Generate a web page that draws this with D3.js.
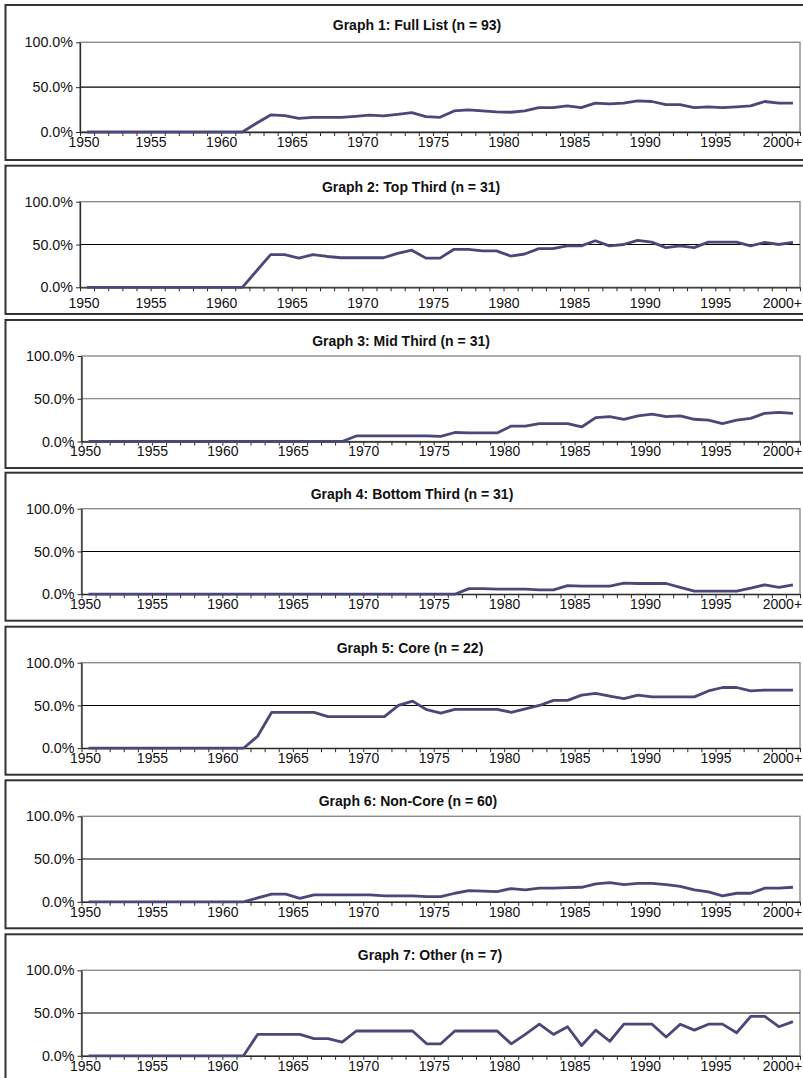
<!DOCTYPE html>
<html>
<head>
<meta charset="utf-8">
<script src="https://cdn.jsdelivr.net/npm/d3@7"></script>
<style>
  html, body { margin: 0; padding: 0; background: #fff; }
  svg { display: block; }
  text { font-family: "Liberation Sans", Arial, Helvetica, sans-serif; }
</style>
</head>
<body>
<svg id="chart" width="803" height="1078"></svg>
<script>
// ---------- data ----------
const years = [1950,1951,1952,1953,1954,1955,1956,1957,1958,1959,
  1960,1961,1962,1963,1964,1965,1966,1967,1968,1969,
  1970,1971,1972,1973,1974,1975,1976,1977,1978,1979,
  1980,1981,1982,1983,1984,1985,1986,1987,1988,1989,
  1990,1991,1992,1993,1994,1995,1996,1997,1998,1999,2000];

const labelYears = [1950, 1955, 1960, 1965, 1970, 1975, 1980, 1985, 1990, 1995, 2000];
const labelTexts = ["1950", "1955", "1960", "1965", "1970", "1975", "1980", "1985", "1990", "1995", "2000+"];
const yTicks = [0, 0.5, 1];

const titles = [
  "Graph 1: Full List (n = 93)",
  "Graph 2: Top Third (n = 31)",
  "Graph 3: Mid Third (n = 31)",
  "Graph 4: Bottom Third (n = 31)",
  "Graph 5: Core (n = 22)",
  "Graph 6: Non-Core (n = 60)",
  "Graph 7: Other (n = 7)"
];

// values in percent, one per year 1950..2000(+)
const fullList = [0,0,0,0,0,0,0,0,0,0,0,0,
  9.7,19.0,18.3,15.3,16.4,16.4,16.4,17.5,18.7,17.9,19.6,21.6,17.2,16.4,23.5,24.6,23.5,22.4,
  22.0,23.5,27.2,27.2,29.1,27.2,32.1,31.3,32.1,34.7,34.0,30.6,30.6,27.2,28.0,27.2,28.0,29.1,34.0,32.1,32.1];

const topThird = [0,0,0,0,0,0,0,0,0,0,0,0,
  19.0,38.1,38.1,34.1,38.1,36.0,34.5,34.5,34.5,34.5,39.7,43.3,34.1,34.1,44.4,44.4,42.5,42.5,
  36.5,38.9,45.2,45.2,48.4,48.4,54.4,48.4,50.0,54.8,52.8,46.4,48.4,46.4,52.8,52.8,52.8,48.4,52.4,50.0,52.4];

const midThird = [0,0,0,0,0,0,0,0,0,0,0,0,0,0,0,0,0,0,0,
  6.5,6.5,6.5,6.5,6.5,6.5,6.0,10.5,10,10,10,
  18,18,21,21,21,17,28,29,26,30,32,29,30,26,25,21,25,27,33,34,33];

const bottomThird = [0,0,0,0,0,0,0,0,0,0,0,0,0,0,0,0,0,0,0,0,0,0,0,0,0,0,0,
  6.5,6.5,6,6,6,5,5,10,9.5,9.5,9.5,13,12.5,12.5,12.5,8,3.5,3.5,3.5,3.5,7,11,8,11];

const core = [0,0,0,0,0,0,0,0,0,0,0,0,
  14,42,42,42,42,37,37,37,37,37,50,55,45,41,45.5,45.5,45.5,45.5,
  42,46,50,56,56,62,64,61,58,62,60,60,60,60,67,71,71,67,68,68,68];

const nonCore = [0,0,0,0,0,0,0,0,0,0,0,0,
  4.5,9,9,4,8,8,8,8,8,7,7,7,6,6,10,13,12.5,12,
  15.5,14,16,16,16.5,17,21,22.5,20,21.5,21.5,20,18,14,11.5,7,10,10,16,16,17];

const other = [0,0,0,0,0,0,0,0,0,0,0,0,
  25,25,25,25,20,20,16,29,29,29,29,29,14,14,29,29,29,29,
  14,25,37,25,34,12,30,17,37,37,37,22,37,30,37,37,27,46,46,34,40];

const seriesList = [fullList, topThird, midThird, bottomThird, core, nonCore, other];

// ---------- layout ----------
const panels = [
  { top: 5,     boxH: 155,   plotTop: 42.3,  plotBottom: 132,    left: 80,   titleX: 417, titleY: 25,    pad: 1,   grid: "#000" },
  { top: 165.7, boxH: 148.3, plotTop: 201.7, plotBottom: 287.3,  left: 80,   titleX: 411, titleY: 186.7, pad: 6.5, grid: "#000" },
  { top: 320,   boxH: 148,   plotTop: 356,   plotBottom: 441.5,  left: 81.5, titleX: 401, titleY: 341,   pad: 1,   grid: "#6e6e6e" },
  { top: 472.7, boxH: 148,   plotTop: 508.7, plotBottom: 594.2,  left: 81.5, titleX: 412, titleY: 493.7, pad: 1,   grid: "#000" },
  { top: 626.7, boxH: 148,   plotTop: 662.7, plotBottom: 748.2,  left: 81.5, titleX: 410, titleY: 647.7, pad: 1,   grid: "#000" },
  { top: 780.3, boxH: 148,   plotTop: 816.3, plotBottom: 901.8,  left: 81.5, titleX: 408, titleY: 801.3, pad: 1,   grid: "#000" },
  { top: 934.3, boxH: 148,   plotTop: 970.3, plotBottom: 1055.8, left: 81.5, titleX: 430, titleY: 955.3, pad: 1,   grid: "#000" }
];
const plotRight = 800;
const lineColor = "#4a4879";

const svg = d3.select("#chart");
svg.append("rect").attr("width", 803).attr("height", 1078).attr("fill", "#fff");

panels.forEach((p, k) => {
  const g = svg.append("g");
  const data = seriesList[k];

  // outer frame
  g.append("rect")
    .attr("x", 5.5).attr("y", p.top)
    .attr("width", 840).attr("height", p.boxH)
    .attr("fill", "none").attr("stroke", "#333").attr("stroke-width", 2);

  // title
  g.append("text")
    .attr("x", p.titleX).attr("y", p.titleY + 5)
    .attr("text-anchor", "middle")
    .attr("font-size", 14).attr("font-weight", "bold").attr("fill", "#111")
    .text(titles[k]);

  const x = d3.scaleLinear().domain([years[0], years[years.length - 1] + 1]).range([p.left, plotRight]);
  const y = d3.scaleLinear().domain([0, 1]).range([p.plotBottom, p.plotTop]);

  // plot area border (gray)
  g.append("rect")
    .attr("x", p.left).attr("y", p.plotTop)
    .attr("width", plotRight - p.left).attr("height", p.plotBottom - p.plotTop)
    .attr("fill", "none").attr("stroke", "#8c8c8c").attr("stroke-width", 1.4);

  // 50% gridline
  g.append("line")
    .attr("x1", p.left).attr("x2", plotRight)
    .attr("y1", y(0.5)).attr("y2", y(0.5))
    .attr("stroke", p.grid).attr("stroke-width", 1.1);

  // y axis
  const yAxis = d3.axisLeft(y).tickValues(yTicks).tickFormat(d3.format(".1%"))
    .tickSize(4).tickSizeOuter(0).tickPadding(3);
  const ya = g.append("g").attr("transform", `translate(${p.left},0)`).call(yAxis);
  ya.select(".domain").attr("stroke", "#2a2a2a").attr("stroke-width", 1.3);
  ya.selectAll(".tick line").attr("stroke", "#2a2a2a");
  ya.selectAll("text").attr("font-size", 14.3).attr("fill", "#111")
    .attr("font-family", "'Liberation Sans', Arial, sans-serif");

  // x axis: ticks at every category boundary, labels every 5 years
  const tickVals = years.concat([years[years.length - 1] + 1]);
  const xAxis = d3.axisBottom(x).tickValues(tickVals)
    .tickFormat(d => { const i = labelYears.indexOf(d); return i >= 0 ? labelTexts[i] : ""; })
    .tickSize(4).tickSizeOuter(0).tickPadding(p.pad);
  const xa = g.append("g").attr("transform", `translate(0,${p.plotBottom})`).call(xAxis);
  xa.select(".domain").attr("stroke", "#2a2a2a").attr("stroke-width", 1.3);
  xa.selectAll(".tick line").attr("stroke", "#2a2a2a");
  xa.selectAll("text").attr("font-size", 14).attr("fill", "#111")
    .attr("font-family", "'Liberation Sans', Arial, sans-serif")
    .attr("dx", d => d === labelYears[0] ? 3.5 : (d === labelYears[labelYears.length - 1] ? -4 : 0));

  // data line
  const line = d3.line()
    .x((d, i) => x(years[i] + 0.5))
    .y(d => y(d / 100));
  g.append("path")
    .datum(data)
    .attr("d", line)
    .attr("fill", "none")
    .attr("stroke", lineColor)
    .attr("stroke-width", 2.8)
    .attr("stroke-linejoin", "round");
});
</script>
</body>
</html>
